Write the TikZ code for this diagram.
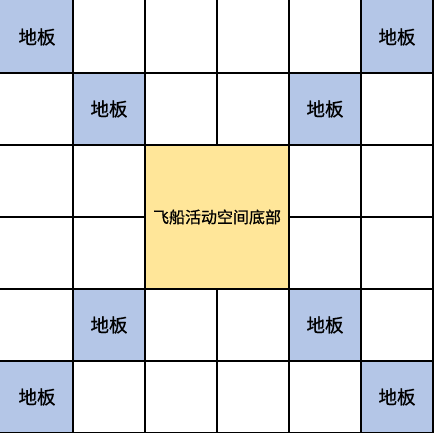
\documentclass[tikz,border=0pt]{standalone}
\usepackage{fontspec}
\newfontfamily\cjk[FakeBold=0.8]{Noto Sans CJK SC}
\definecolor{floorblue}{HTML}{B4C6E7}
\definecolor{bayyellow}{HTML}{FFE699}
\tikzset{
  gridline/.style={draw=black, line width=2pt},
  floorlabel/.style={font=\cjk\fontsize{18.5}{20}\selectfont, text=black, inner sep=0pt},
  baylabel/.style={font=\cjk\fontsize{16}{18}\selectfont, text=black, inner sep=0pt}
}
\begin{document}
\begin{tikzpicture}[x=1pt,y=-1pt]
\useasboundingbox (0,0) rectangle (433,433);
\fill[white] (0,0) rectangle (433,433);
% blue floor cells
\foreach \i/\j in {0/0,5/0,1/1,4/1,1/4,4/4,0/5,5/5}{
  \fill[floorblue] ({1+72*\i},{1+72*\j}) rectangle ({73+72*\i},{73+72*\j});
}
\fill[floorblue] (-1,-1) rectangle (73,73);
\fill[floorblue] (361,-1) rectangle (434,73);
\fill[floorblue] (-1,361) rectangle (73,434);
% grid lines
\foreach \k in {1,...,6}{
  \draw[gridline] ({1+72*\k},-2) -- ({1+72*\k},435);
  \draw[gridline] (-2,{1+72*\k}) -- (435,{1+72*\k});
}
% yellow merged cell
\fill[bayyellow] (146,146) rectangle (288,288);
% labels
\foreach \i/\j/\n in {0/0/a,5/0/b,1/1/c,4/1/d,1/4/e,4/4/f,0/5/g,5/5/h}{
  \node[floorlabel] (floor\n) at ({37+72*\i},{37+72*\j}) {地板};
}
\node[baylabel] (bay) at (217,217) {飞船活动空间底部};
\end{tikzpicture}
\end{document}
